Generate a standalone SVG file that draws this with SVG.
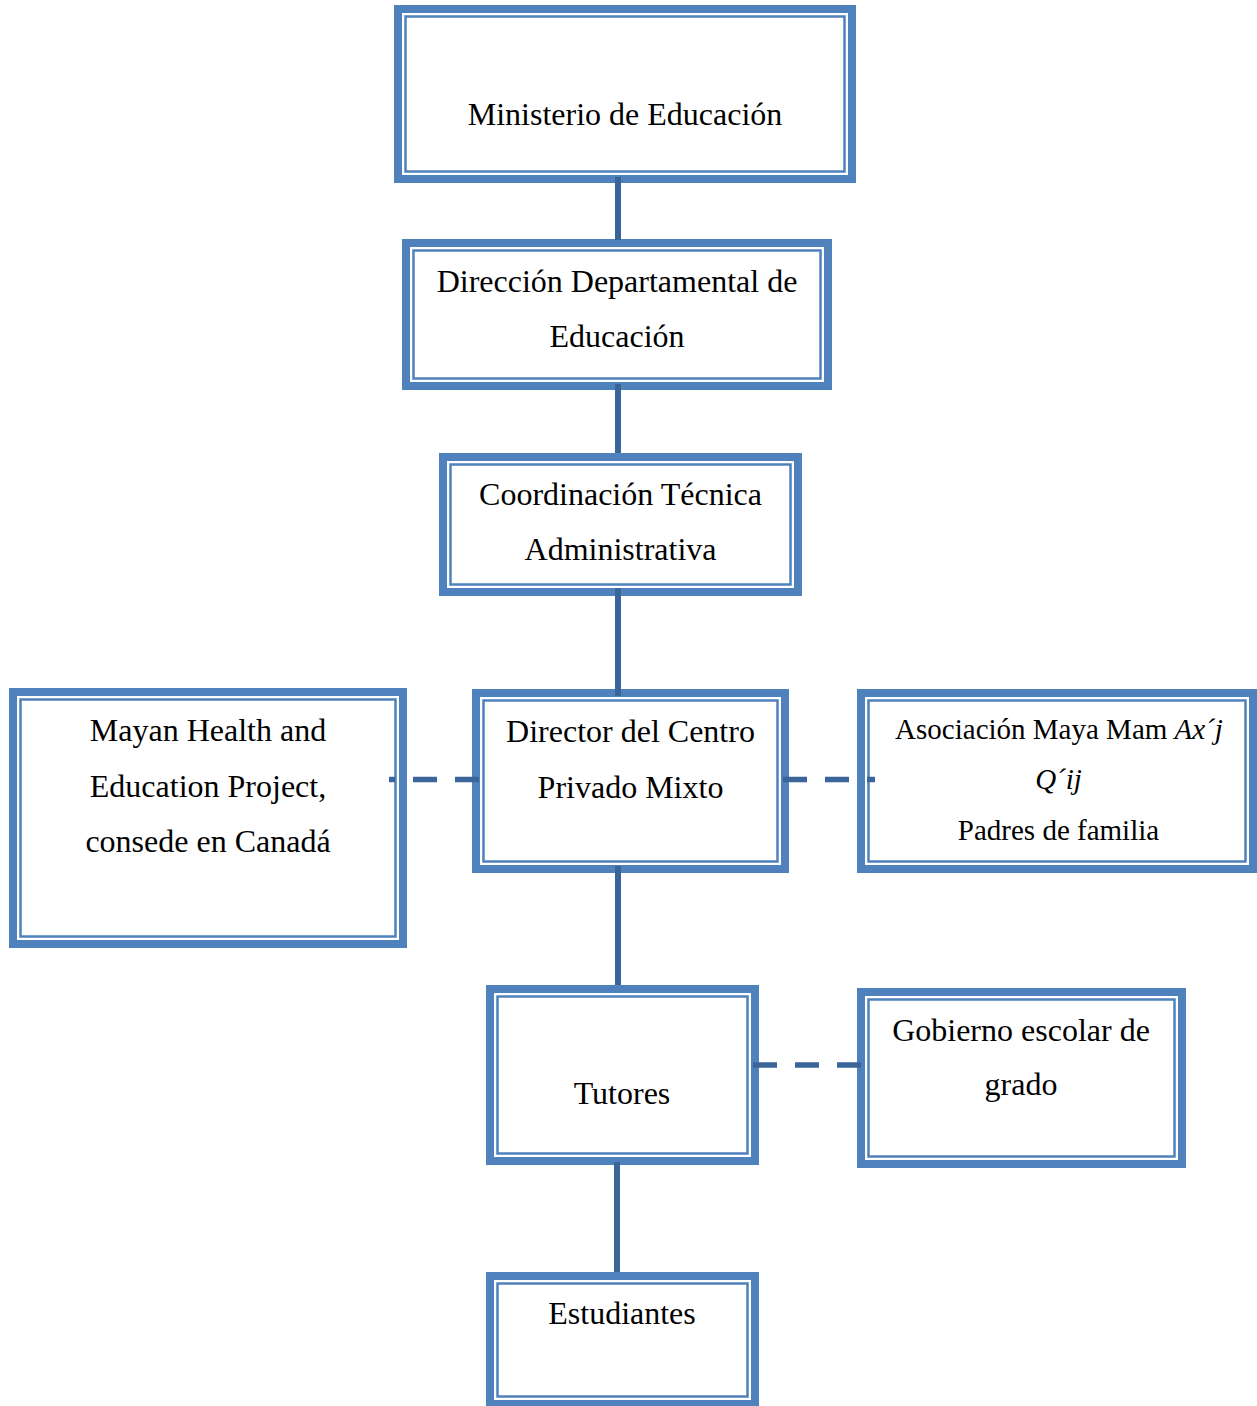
<svg xmlns="http://www.w3.org/2000/svg" width="1257" height="1406" viewBox="0 0 1257 1406">
<style>
.o{fill:#fff;stroke:#4F81BD;stroke-width:8}
.i{fill:none;stroke:#4F81BD;stroke-width:2.5}
text{font-family:"Liberation Serif","Times New Roman",serif;font-size:32px;fill:#000;text-anchor:middle}
.s{font-size:29px}
.c{stroke:#3A6599;stroke-width:6;fill:none}
.d{stroke:#3A6599;stroke-width:5.5;fill:none;stroke-dasharray:24 18}
</style>
<rect width="1257" height="1406" fill="#fff"/>
<g id="ministerio">
<rect class="o" x="398" y="9" width="454" height="170"/>
<rect class="i" x="405.5" y="16.5" width="439" height="155"/>
<text x="625" y="125">Ministerio de Educación</text>
</g>
<g id="direccion">
<rect class="o" x="406" y="243" width="422" height="143"/>
<rect class="i" x="413.5" y="250.5" width="407" height="128"/>
<text x="617" y="292">Dirección Departamental de</text>
<text x="617" y="347">Educación</text>
</g>
<g id="coordinacion">
<rect class="o" x="443" y="457" width="355" height="135"/>
<rect class="i" x="450.5" y="464.5" width="340" height="120"/>
<text x="620.5" y="505">Coordinación Técnica</text>
<text x="620.5" y="560">Administrativa</text>
</g>
<g id="director">
<rect class="o" x="476" y="693" width="309" height="176"/>
<rect class="i" x="483.5" y="700.5" width="294" height="161"/>
<text x="630.5" y="742">Director del Centro</text>
<text x="630.5" y="798">Privado Mixto</text>
</g>
<g id="mayan">
<rect class="o" x="13" y="692" width="390" height="252"/>
<rect class="i" x="20.5" y="699.5" width="375" height="237"/>
<text x="208" y="741">Mayan Health and</text>
<text x="208" y="797">Education Project,</text>
<text x="208" y="852">consede en Canadá</text>
</g>
<g id="asociacion">
<rect class="o" x="861" y="693" width="392" height="176"/>
<rect class="i" x="868.5" y="700.5" width="377" height="161"/>
<text class="s" x="1059" y="739">Asociación Maya Mam <tspan font-style="italic">Ax´j</tspan></text>
<text class="s" x="1058.5" y="789" font-style="italic">Q´ij</text>
<text class="s" x="1058.5" y="840">Padres de familia</text>
</g>
<g id="tutores">
<rect class="o" x="490" y="989" width="265" height="172"/>
<rect class="i" x="497.5" y="996.5" width="250" height="157"/>
<text x="622" y="1104">Tutores</text>
</g>
<g id="gobierno">
<rect class="o" x="861" y="992" width="321" height="172"/>
<rect class="i" x="868.5" y="999.5" width="306" height="157"/>
<text x="1021" y="1041">Gobierno escolar de</text>
<text x="1021" y="1095">grado</text>
</g>
<g id="estudiantes">
<rect class="o" x="490" y="1276" width="265" height="128"/>
<rect class="i" x="497.5" y="1283.5" width="250" height="113"/>
<text x="622" y="1324">Estudiantes</text>
</g>
<g id="connectors">
<path class="c" d="M618 177V240"/>
<path class="c" d="M618 384V453"/>
<path class="c" d="M618 588V696"/>
<path class="c" d="M618 866V985"/>
<path class="c" d="M617 1162V1272"/>
<path class="d" d="M479 779.5H389"/>
<path class="d" d="M783 779.5H875"/>
<path class="d" d="M753 1065H861"/>
</g>
</svg>
